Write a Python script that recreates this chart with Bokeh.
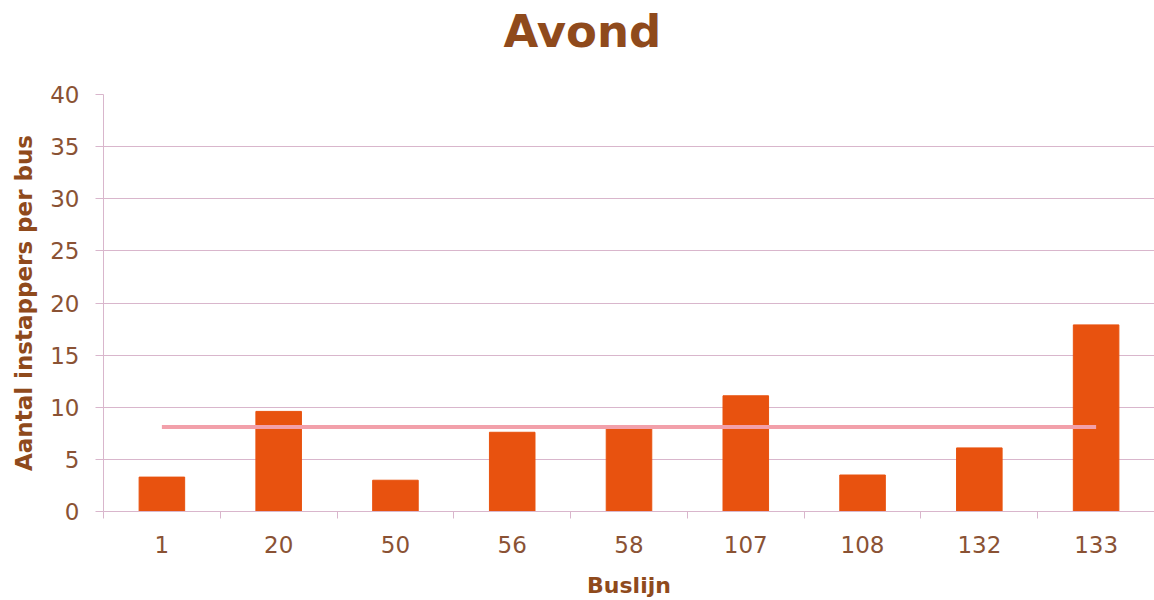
from bokeh.plotting import figure
from bokeh.models import Range1d, FixedTicker, ColumnDataSource, Title
from bokeh.embed import file_html
from bokeh.resources import INLINE
import numpy as np

# Evening boardings per bus, by bus line
lines = ["1", "20", "50", "56", "58", "107", "108", "132", "133"]
boardings = [3.3, 9.6, 3.0, 7.6, 8.0, 11.1, 3.5, 6.1, 17.9]
average = 8.1
y_ticks = [0, 5, 10, 15, 20, 25, 30, 35, 40]

FONT = "DejaVu Sans"
BROWN = "#8f4a1c"
LABEL = "#8a5234"
GRID = "#d9b6cc"
BAR = "#e8520f"
AVG = "#f2a0aa"

centers = np.arange(len(lines)) + 0.5
src = ColumnDataSource(dict(x=centers, top=boardings, line=lines))

p = figure(width=1154, height=600, output_backend="svg", toolbar_location=None,
           x_range=Range1d(0, len(lines)), y_range=Range1d(0, 40),
           min_border_left=103, min_border_right=0, min_border_top=0,
           min_border_bottom=8)

p.title.text = "Avond"
p.title.align = "left"
p.title.offset = 400
p.title.vertical_align = "top"
p.title.text_font = FONT
p.title.text_font_size = "45px"
p.title.text_font_style = "bold"
p.title.text_color = BROWN
p.title.standoff = 8

# blank band between the title and the plot area
p.add_layout(Title(text=" ", text_font_size="10px", standoff=18), "above")

p.outline_line_color = None
p.background_fill_color = "white"
p.border_fill_color = "white"

p.vbar(x="x", top="top", width=0.39, bottom=0, source=src, color=BAR)
p.line(x=[centers[0], centers[-1]], y=[average, average], line_color=AVG, line_width=4)

# y axis
p.yaxis.ticker = FixedTicker(ticks=y_ticks)
p.yaxis.axis_line_color = GRID
p.yaxis.major_tick_line_color = GRID
p.yaxis.major_tick_out = 8
p.yaxis.major_tick_in = 0
p.yaxis.minor_tick_line_color = None
p.yaxis.major_label_text_font = FONT
p.yaxis.major_label_text_font_size = "23px"
p.yaxis.major_label_text_color = LABEL
p.yaxis.major_label_standoff = 16
p.yaxis.axis_label = "Aantal instappers per bus"
p.yaxis.axis_label_text_font = FONT
p.yaxis.axis_label_text_font_size = "23px"
p.yaxis.axis_label_text_font_style = "bold"
p.yaxis.axis_label_text_color = BROWN
p.yaxis.axis_label_standoff = 10

# x axis: labels under each bar, ticks between categories
p.xaxis.ticker = FixedTicker(ticks=list(centers),
                             minor_ticks=list(range(len(lines) + 1)))
p.xaxis.major_label_overrides = {float(c): l for c, l in zip(centers, lines)}
p.xaxis.axis_line_color = GRID
p.xaxis.major_tick_line_color = None
p.xaxis.minor_tick_line_color = GRID
p.xaxis.minor_tick_out = 7
p.xaxis.minor_tick_in = 0
p.xaxis.major_label_text_font = FONT
p.xaxis.major_label_text_font_size = "23px"
p.xaxis.major_label_text_color = LABEL
p.xaxis.major_label_standoff = 17
p.xaxis.axis_label = "Buslijn"
p.xaxis.axis_label_text_font = FONT
p.xaxis.axis_label_text_font_size = "22px"
p.xaxis.axis_label_text_font_style = "bold"
p.xaxis.axis_label_text_color = BROWN
p.xaxis.axis_label_standoff = 17

p.xgrid.grid_line_color = None
p.ygrid.grid_line_color = GRID
p.ygrid.grid_line_width = 1

open("out.html", "w").write(file_html(p, INLINE))
